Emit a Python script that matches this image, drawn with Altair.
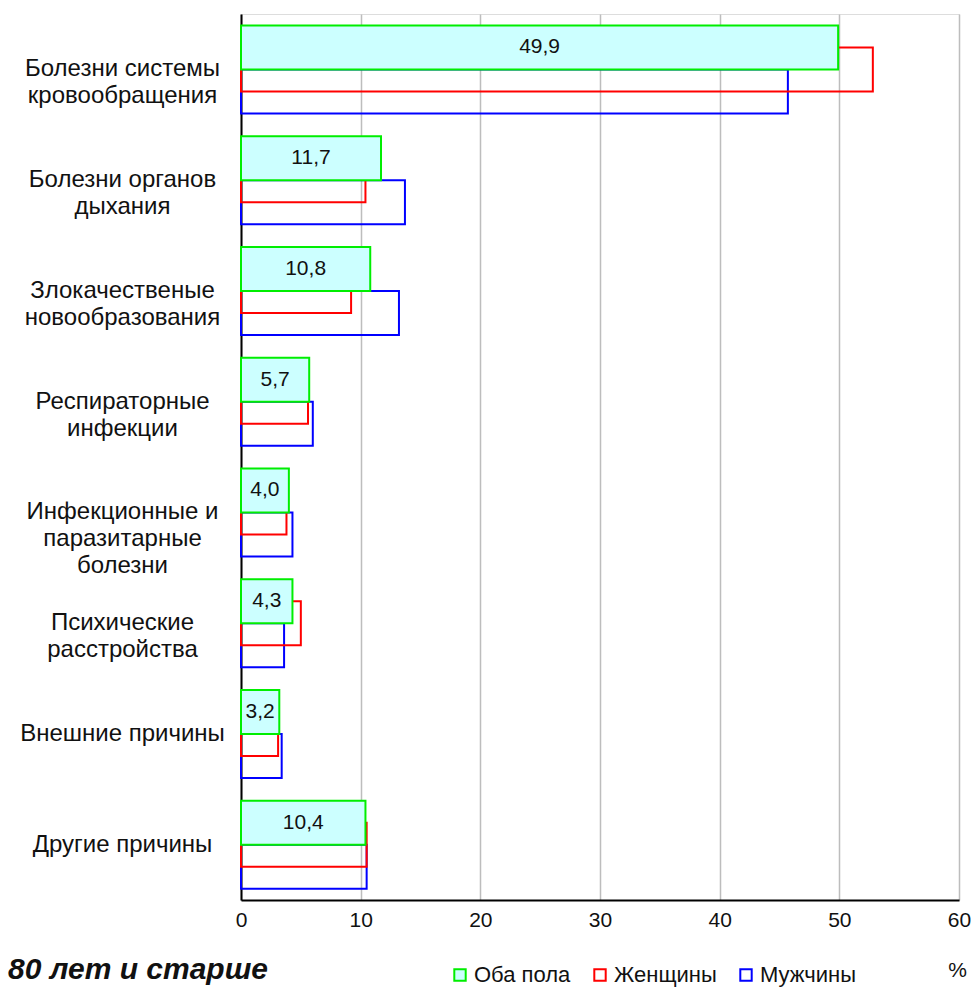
import altair as alt
import pandas as pd

# Causes of death, age 80 and older (% of all deaths)
categories = [
    "Болезни системы\nкровообращения",
    "Болезни органов\nдыхания",
    "Злокачественые\nновообразования",
    "Респираторные\nинфекции",
    "Инфекционные и\nпаразитарные\nболезни",
    "Психические\nрасстройства",
    "Внешние причины",
    "Другие причины",
]
both = [49.9, 11.7, 10.8, 5.7, 4.0, 4.3, 3.2, 10.4]
women = [52.8, 10.4, 9.2, 5.6, 3.8, 5.0, 3.1, 10.5]
men = [45.7, 13.7, 13.2, 6.0, 4.3, 3.6, 3.4, 10.5]
series = ["Оба пола", "Женщины", "Мужчины"]
x_ticks = [0, 10, 20, 30, 40, 50, 60]

rows = []
for name, vals in zip(series, [both, women, men]):
    for cause, v in zip(categories, vals):
        rows.append({"cause": cause, "series": name, "value": v})
df = pd.DataFrame(rows)

FONT = "Liberation Sans"
TEXT = "#111111"

stroke_scale = alt.Scale(domain=series, range=["#00ee00", "#ff0000", "#0000ff"])
fill_scale = alt.Scale(domain=series, range=["#ccffff", "transparent", "transparent"])

legend = alt.Legend(
    title=None,
    orient="none",
    legendX=208,
    legendY=950,
    direction="horizontal",
    symbolType="square",
    symbolSize=130,
    symbolStrokeWidth=2,
    labelFont=FONT,
    labelFontSize=22,
    labelColor=TEXT,
    labelOffset=3,
    columnPadding=18,
)

x_axis = alt.Axis(
    values=x_ticks,
    title="%",
    titleX=716,
    titleY=70,
    titleFont=FONT,
    titleFontSize=21,
    titleFontWeight="normal",
    titleColor=TEXT,
    titleAngle=0,
    titleAlign="center",
    titleBaseline="middle",
    grid=True,
    gridColor="#bdbdbd",
    gridWidth=1.5,
    ticks=False,
    domainColor="black",
    domainWidth=2,
    labelFont=FONT,
    labelFontSize=21,
    labelColor=TEXT,
    labelPadding=9,
    labelFlush=False,
)
x_scale = alt.Scale(domain=[0, 60], nice=False, zero=True)

y_enc = alt.Y(
    "cause:N",
    sort=categories,
    scale=alt.Scale(paddingInner=0, paddingOuter=0),
    axis=alt.Axis(
        title=None,
        labelExpr="split(datum.label, '\\n')",
        labelAlign="center",
        labelBaseline="middle",
        labelPadding=119,
        labelLineHeight=27,
        labelLimit=400,
        labelOverlap=False,
        labelFont=FONT,
        labelFontSize=24,
        labelColor=TEXT,
        ticks=False,
        grid=False,
        domainColor="black",
        domainWidth=2,
    ),
)

base = alt.Chart(df).encode(
    x=alt.X("value:Q", stack=None, scale=x_scale, axis=x_axis),
    y=y_enc,
    stroke=alt.Stroke("series:N", scale=stroke_scale, legend=legend),
    fill=alt.Fill("series:N", scale=fill_scale, legend=legend),
)

# men (lowest), women (middle), both sexes (top, drawn last)
men_bars = base.transform_filter(alt.datum.series == "Мужчины").mark_bar(
    size=44, yOffset=22, strokeWidth=2
)
women_bars = base.transform_filter(alt.datum.series == "Женщины").mark_bar(
    size=44, yOffset=0, strokeWidth=2
)
both_bars = base.transform_filter(alt.datum.series == "Оба пола").mark_bar(
    size=44, yOffset=-22, strokeWidth=2
)

value_labels = (
    alt.Chart(df)
    .transform_filter(alt.datum.series == "Оба пола")
    .transform_calculate(
        mid="datum.value / 2",
        txt="replace(format(datum.value, '.1f'), '.', ',')",
    )
    .mark_text(
        yOffset=-22,
        font=FONT,
        fontSize=21,
        color=TEXT,
        align="center",
        baseline="middle",
    )
    .encode(
        x=alt.X("mid:Q", scale=x_scale, axis=x_axis),
        y=y_enc,
        text="txt:N",
    )
)

chart = (
    alt.layer(men_bars, women_bars, both_bars, value_labels)
    .properties(
        width=718,
        height=886,
        autosize=alt.AutoSizeParams(type="none"),
        padding={"left": 241, "top": 14, "right": 15, "bottom": 87},
        title=alt.TitleParams(
            "80 лет и старше",
            orient="bottom",
            anchor="start",
            frame="group",
            dx=-233,
            offset=-31,
            font=FONT,
            fontSize=30,
            fontStyle="italic",
            fontWeight="bold",
            color=TEXT,
        ),
    )
    .configure_view(stroke="#9a9a9a", strokeWidth=2)
    .configure(background="white")
)

chart.save("out.html", embed_options={"renderer": "svg", "actions": False})
